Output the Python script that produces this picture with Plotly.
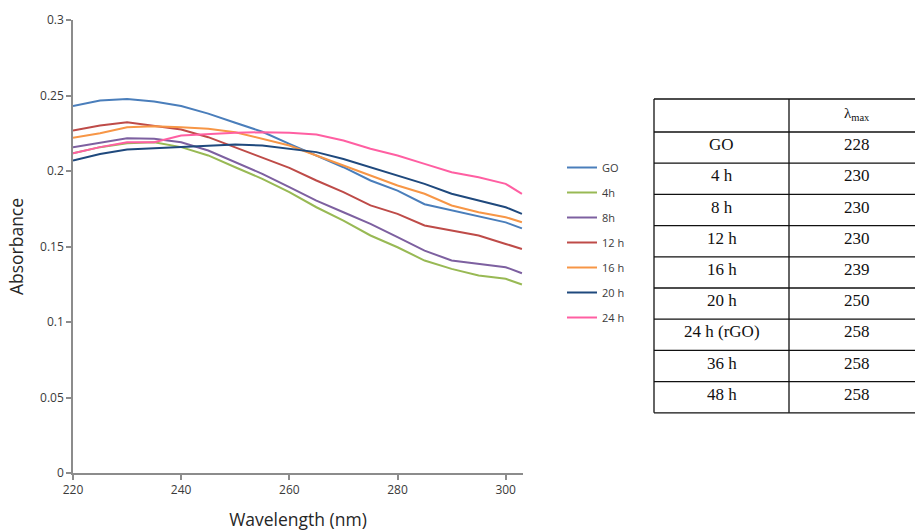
import plotly.graph_objects as go

# ---------------- data ----------------
wavelength = [220, 225, 230, 235, 240, 245, 250, 255, 260, 265, 270, 275, 280, 285, 290, 295, 300, 303]

abs_GO = [0.243, 0.2467, 0.2476, 0.246, 0.243, 0.238, 0.232, 0.226, 0.218, 0.210, 0.2025, 0.1937, 0.187, 0.178, 0.174, 0.170, 0.166, 0.162]
abs_4h = [0.2118, 0.2158, 0.2184, 0.219, 0.2158, 0.2103, 0.2025, 0.1948, 0.186, 0.176, 0.1672, 0.1573, 0.1495, 0.1407, 0.1352, 0.1308, 0.1286, 0.1248]
abs_8h = [0.2158, 0.219, 0.2217, 0.2213, 0.219, 0.2136, 0.2058, 0.1981, 0.1893, 0.1804, 0.1727, 0.165, 0.1562, 0.1473, 0.1407, 0.1385, 0.1363, 0.1323]
abs_12h = [0.2268, 0.2301, 0.2323, 0.230, 0.2275, 0.2224, 0.2158, 0.2092, 0.2021, 0.1937, 0.186, 0.1772, 0.1716, 0.1639, 0.1606, 0.1573, 0.1517, 0.1484]
abs_16h = [0.222, 0.225, 0.229, 0.2297, 0.229, 0.2279, 0.2257, 0.2213, 0.2169, 0.2103, 0.2037, 0.197, 0.1904, 0.1849, 0.1772, 0.1727, 0.1694, 0.1661]
abs_20h = [0.2069, 0.2113, 0.2142, 0.2151, 0.2158, 0.2169, 0.2176, 0.2169, 0.2147, 0.2125, 0.208, 0.2025, 0.197, 0.1915, 0.1849, 0.1805, 0.176, 0.1716]
abs_24h = [0.2118, 0.2158, 0.219, 0.219, 0.2235, 0.2246, 0.2253, 0.2257, 0.2253, 0.2242, 0.2202, 0.2147, 0.2103, 0.2047, 0.1992, 0.1959, 0.1915, 0.1849]

series_names = ["GO", "4h", "8h", "12 h", "16 h", "20 h", "24 h"]
series_values = [abs_GO, abs_4h, abs_8h, abs_12h, abs_16h, abs_20h, abs_24h]
series_colors = ["#4A7EBB", "#98B954", "#7D60A0", "#BE4B48", "#F79646", "#1F497D", "#FF5FA2"]

x_ticks = [220, 240, 260, 280, 300]
y_ticks = [0, 0.05, 0.1, 0.15, 0.2, 0.25, 0.3]
y_tick_labels = ["0", "0.05", "0.1", "0.15", "0.2", "0.25", "0.3"]

table_header = "λ<sub>max</sub>"
table_rows = ["GO", "4 h", "8 h", "12 h", "16 h", "20 h", "24 h (rGO)", "36 h", "48 h"]
lambda_max = [228, 230, 230, 230, 239, 250, 258, 258, 258]

# ---------------- geometry (pixels) ----------------
W, H = 915, 531
ML, MT, MR, MB = 73, 20, 392, 58
PW = W - ML - MR
PH = H - MT - MB


def px(x):
    return (x - ML) / PW


def py(y):
    return (H - MB - y) / PH


fig = go.Figure()
for name, vals, col in zip(series_names, series_values, series_colors):
    fig.add_trace(go.Scatter(x=wavelength, y=vals, mode="lines", name=name,
                             legendgroup=name,
                             line=dict(color=col, width=2)))

axis_col = "#8C8C8C"
tick_font = dict(family="Open Sans", size=12, color="#3A3A3A")
title_font = dict(family="Open Sans", size=17.5, color="#262626")

fig.update_xaxes(range=[220, 303.2], tickvals=x_ticks, showline=True, linecolor=axis_col,
                 linewidth=1.5, ticks="outside", ticklen=5, tickcolor=axis_col, tickwidth=1.5,
                 showgrid=False, zeroline=False, tickfont=tick_font,
                 title=dict(text="Wavelength (nm)", font=title_font, standoff=17))
fig.update_yaxes(range=[0, 0.3], tickvals=y_ticks, ticktext=y_tick_labels, showline=True,
                 linecolor=axis_col, linewidth=1.5, ticks="outside", ticklen=5,
                 tickcolor=axis_col, tickwidth=1.5, showgrid=False, zeroline=False,
                 tickfont=tick_font,
                 title=dict(text="Absorbance", font=title_font, standoff=12))

# ---------------- table (shapes + text) ----------------
tbl_left, tbl_mid, tbl_right = 654, 789, 925
tbl_top = 99
header_h = 33
row_h = 31.2
n_rows = len(table_rows)
tbl_bottom = tbl_top + header_h + row_h * n_rows

shapes = []
line_style = dict(color="#111111", width=1.3)
ys = [tbl_top, tbl_top + header_h] + [tbl_top + header_h + row_h * (i + 1) for i in range(n_rows)]
for yv in ys:
    shapes.append(dict(type="line", xref="paper", yref="paper", x0=px(tbl_left), x1=px(tbl_right),
                       y0=py(yv), y1=py(yv), line=line_style))
for xv in [tbl_left, tbl_mid]:
    shapes.append(dict(type="line", xref="paper", yref="paper", x0=px(xv), x1=px(xv),
                       y0=py(tbl_top), y1=py(tbl_bottom), line=line_style))

annotations = []
serif = "Liberation Serif, Times New Roman, serif"
cell_font = dict(family=serif, size=17, color="#111111")
c1 = (tbl_left + tbl_mid) / 2
c2 = (tbl_mid + tbl_right) / 2
annotations.append(dict(text=table_header, xref="paper", yref="paper", x=px(c2),
                        y=py(tbl_top + header_h / 2 - 1), showarrow=False, xanchor="center",
                        yanchor="middle", font=dict(family=serif, size=15, color="#111111")))
for i, (lab, val) in enumerate(zip(table_rows, lambda_max)):
    yc = tbl_top + header_h + row_h * i + row_h / 2 - 3
    annotations.append(dict(text=lab, xref="paper", yref="paper", x=px(c1), y=py(yc),
                            showarrow=False, xanchor="center", yanchor="middle", font=cell_font))
    annotations.append(dict(text=str(val), xref="paper", yref="paper", x=px(c2), y=py(yc),
                            showarrow=False, xanchor="center", yanchor="middle", font=cell_font))

fig.update_layout(
    width=W, height=H,
    margin=dict(l=ML, r=MR, t=MT, b=MB, autoexpand=False),
    paper_bgcolor="white", plot_bgcolor="white",
    showlegend=True,
    legend=dict(x=px(562), y=py(153), xanchor="left", yanchor="top",
                font=dict(family="Open Sans", size=11, color="#3A3A3A"),
                bgcolor="rgba(0,0,0,0)", tracegroupgap=6, traceorder="grouped"),
    shapes=shapes,
    annotations=annotations,
)

fig.write_html(
    "out.html",
    config={"displayModeBar": False},
    post_script="document.body.style.margin='0';document.body.style.overflow='hidden';",
)
